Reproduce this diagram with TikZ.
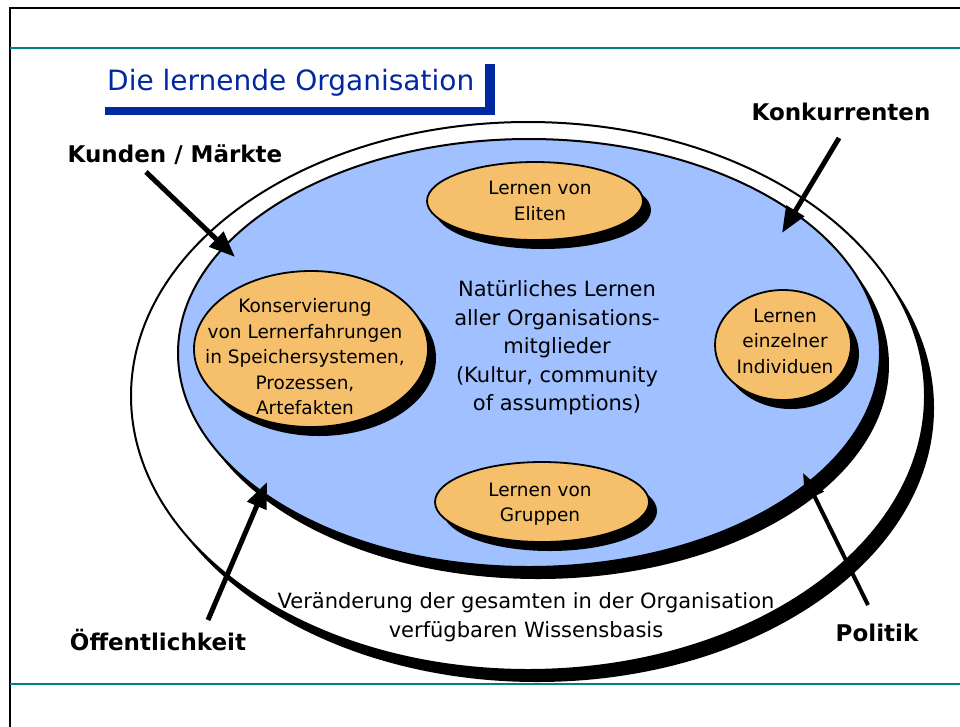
\documentclass[tikz,border=0pt]{standalone}
\usepackage{fontspec}
\setmainfont{DejaVu Sans}
\usepackage{xcolor}
\usetikzlibrary{arrows.meta,shapes,shadows}
\definecolor{bluefill}{RGB}{160,192,255}
\definecolor{orangefill}{RGB}{246,191,108}
\definecolor{titleblue}{RGB}{0,40,160}
\definecolor{rulecolor}{RGB}{0,128,128}
\newcommand{\blobfont}{\fontsize{18.5}{25.5}\selectfont}
\newcommand{\midfont}{\fontsize{21}{28.5}\selectfont}
\newcommand{\labelfont}{\bfseries\fontsize{23}{28}\selectfont}
\newcommand{\titlefont}{\fontsize{28}{32}\selectfont}
\tikzstyle{blob}=[ellipse, draw=black, line width=1.8pt, fill=orangefill, inner sep=0pt, general shadow={fill=black, shadow xshift=8pt, shadow yshift=-9pt}]
\tikzstyle{blobtext}=[align=center, font=\blobfont, inner sep=0pt]
\tikzstyle{outside}=[font=\labelfont, inner sep=0pt]
\tikzstyle{pfeil}=[line width=5pt, -{Triangle[length=26pt,width=20pt]}]

\begin{document}
\begin{tikzpicture}[x=1pt,y=-1pt]
	\useasboundingbox (0,0) rectangle (960,726);
	\draw[line width=2.2pt] (10,727) -- (10,8.3) -- (961,8.3);
	\draw[rulecolor, line width=2.5pt] (10,48) -- (961,48);
	\draw[rulecolor, line width=2.5pt] (10,684) -- (961,684);
%
	\fill[black] (537,408) ellipse [x radius=397, y radius=274];
	\filldraw[fill=white, line width=2pt] (528,396) ellipse [x radius=397, y radius=274];
	\fill[black] (538,365) ellipse [x radius=351, y radius=214];
	\filldraw[fill=bluefill, line width=2pt] (529,353) ellipse [x radius=351, y radius=214];
%
	\node[anchor=base west, text=titleblue, font=\titlefont, inner sep=0pt] (titel) at (107,90) {Die lernende Organisation};
	\fill[titleblue] (105,107) rectangle (495,115);
	\fill[titleblue] (485,64) rectangle (495,115);
%
	\node[blob, minimum width=216pt, minimum height=78pt] (eliten) at (535,201) {};
	\node[blob, minimum width=214pt, minimum height=80pt] (gruppen) at (542,502) {};
	\node[blob, minimum width=234pt, minimum height=156pt] (speicher) at (311,349) {};
	\node[blob, minimum width=136pt, minimum height=110pt] (individuen) at (783,345) {};
%
	\node[blobtext] (elitentext) at (540,201) {Lernen von\\Eliten};
	\node[blobtext] (gruppentext) at (540,504) {Lernen von\\Gruppen};
	\node[blobtext] (speichertext) at (305,357) {Konservierung\\von Lernerfahrungen\\in Speichersystemen,\\Prozessen,\\Artefakten};
	\node[blobtext] (individuentext) at (785,341) {Lernen\\einzelner\\Individuen};
	\node[align=center, font=\midfont, inner sep=0pt] (mitte) at (557,348) {Natürliches Lernen\\aller Organisations-\\mitglieder\\(Kultur, community\\of assumptions)};
	\node[align=center, font=\midfont, inner sep=0pt] (basis) at (526,617) {Veränderung der gesamten in der Organisation\\verfügbaren Wissensbasis};
%
	\node[outside] (kunden) at (175,155) {Kunden / Märkte};
	\node[outside] (konkurrenten) at (841,112) {Konkurrenten};
	\node[outside] (oeffentlichkeit) at (158,640) {Öffentlichkeit};
	\node[outside] (politik) at (877,633) {Politik};
%
	\coordinate (kundenA) at (146,172);
	\coordinate (kundenB) at (235,257);
	\coordinate (konkA) at (839,138);
	\coordinate (konkB) at (782,233);
	\coordinate (oeffA) at (208,620);
	\coordinate (oeffB) at (267,482);
	\coordinate (polA) at (868,605);
	\coordinate (polB) at (803,473);
	\draw[pfeil] (kundenA) -- (kundenB);
	\draw[pfeil] (konkA) -- (konkB);
	\draw[pfeil] (oeffA) -- (oeffB);
	\draw[pfeil, line width=4pt] (polA) -- (polB);
\end{tikzpicture}
\end{document}
